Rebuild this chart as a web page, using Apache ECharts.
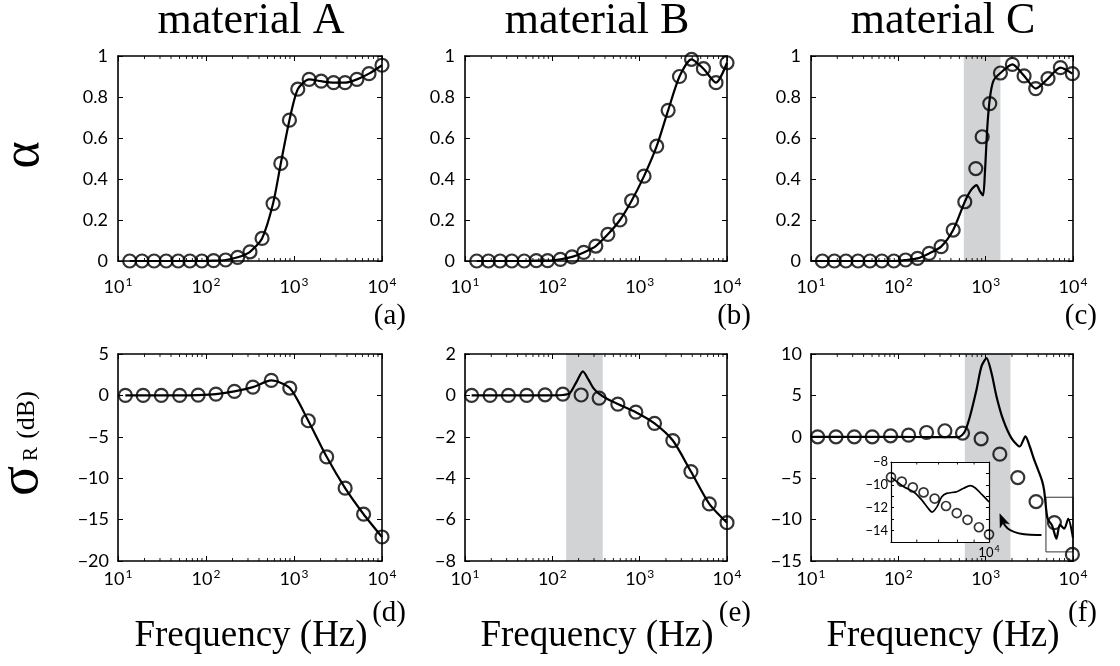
<!DOCTYPE html>
<html><head><meta charset="utf-8">
<script src="https://cdn.jsdelivr.net/npm/echarts@6/dist/echarts.min.js"></script>
<style>html,body{margin:0;padding:0;background:#fff}#c{width:1120px;height:666px}</style>
</head><body><div id="c"></div>
<script>
// ---- data: x values are log10(frequency in Hz) ----
// (a) material A, absorption alpha
const aCircX = [1.133,1.273,1.41,1.547,1.684,1.817,1.953,2.086,2.223,2.36,2.5,2.637,2.762,2.85,2.948,3.043,3.172,3.309,3.45,3.58,3.715,3.852,4.0];
const aCircY = [0,0,0,0,0,0,0,0.002,0.005,0.018,0.045,0.11,0.28,0.476,0.687,0.838,0.886,0.877,0.87,0.87,0.886,0.914,0.955];
// (b) material B, alpha
const bCircX = [1.134,1.268,1.402,1.536,1.678,1.816,1.946,2.092,2.226,2.36,2.498,2.636,2.774,2.908,3.05,3.195,3.326,3.456,3.594,3.73,3.874,4.0];
const bCircY = [0,0,0,0,0,0.002,0.002,0.008,0.02,0.042,0.073,0.13,0.2,0.294,0.414,0.56,0.735,0.9,0.984,0.938,0.87,0.967];
// (c) material C, alpha
const cCircX = [1.13,1.267,1.4,1.538,1.675,1.812,1.949,2.083,2.22,2.353,2.49,2.628,2.761,2.887,2.96,3.047,3.169,3.306,3.44,3.573,3.714,3.856,3.993];
const cCircY = [0,0,0,0,0,0,0,0.005,0.013,0.037,0.07,0.151,0.289,0.451,0.606,0.768,0.917,0.959,0.903,0.841,0.89,0.943,0.914];
const cLineX = [1.0,1.5,1.949,2.083,2.22,2.353,2.49,2.628,2.761,2.83,2.895,2.935,2.97,2.99,3.02,3.05,3.09,3.169,3.306,3.44,3.573,3.714,3.856,3.993];
const cLineY = [0,0,0,0.005,0.013,0.037,0.07,0.151,0.289,0.345,0.37,0.34,0.32,0.42,0.66,0.8,0.88,0.917,0.959,0.903,0.841,0.89,0.943,0.914];
// (d) material A, sigma_R (dB)
const dCircX = [1.084,1.286,1.492,1.701,1.911,2.113,2.323,2.533,2.742,2.952,3.162,3.371,3.581,3.791,4.0];
const dCircY = [0,0,0,0,0.04,0.16,0.48,1.0,1.81,0.89,-3.06,-7.42,-11.2,-14.35,-17.1];
// (e) material B, sigma_R (dB)
const eCircX = [1.076,1.287,1.497,1.707,1.917,2.12,2.33,2.536,2.75,2.956,3.17,3.38,3.587,3.797,4.0];
const eCircY = [0,0,0,0,0.03,0.06,0.02,-0.13,-0.42,-0.81,-1.35,-2.18,-3.68,-5.24,-6.15];
const eLineX = [1.076,1.5,1.917,2.12,2.2,2.28,2.35,2.414,2.47,2.53,2.62,2.75,2.956,3.17,3.38,3.587,3.797,4.0];
const eLineY = [0,0,0,0.02,0.1,0.68,1.16,0.76,0.35,0.1,-0.15,-0.42,-0.81,-1.35,-2.18,-3.68,-5.24,-6.15];
// (f) material C, sigma_R (dB)
const fCircX = [1.076,1.286,1.496,1.701,1.911,2.117,2.323,2.533,2.735,2.948,3.162,3.368,3.577,3.787,3.993];
const fCircY = [0,0,0,0,0.12,0.2,0.52,0.73,0.44,-0.24,-2.1,-4.92,-7.82,-10.36,-14.2];
const fLineX = [1.0,1.5,2.0,2.4,2.6,2.7,2.76,2.82,2.895,2.952,3.01,3.067,3.124,3.2,3.295,3.39,3.455,3.505,3.55,3.6,3.645,3.67,3.69,3.71,3.76,3.81,3.85,3.9,3.945,4.0];
const fLineY = [0,0,0,-0.05,-0.05,0,0.6,2.46,5.68,8.5,9.5,7.7,4.87,2.06,-0.16,-1.17,0.04,-1.17,-2.6,-4.0,-5.3,-6.5,-8.5,-9.9,-10.7,-12.3,-10.6,-11.1,-9.9,-12.2];
// inset of (f)
const gCircX = [3.699,3.732,3.766,3.799,3.833,3.868,3.901,3.934,3.969,4.0];
const gCircY = [-9.33,-9.72,-10.22,-10.66,-11.2,-11.85,-12.47,-13.06,-13.71,-14.33];
const gLineX = [3.699,3.738,3.768,3.794,3.814,3.825,3.84,3.855,3.87,3.901,3.922,3.942,3.957,3.978,4.0];
const gLineY = [-9.33,-10.16,-10.6,-11.34,-12.08,-12.38,-11.93,-11.05,-10.75,-10.6,-10.3,-10.07,-10.25,-10.84,-11.5];
// shaded bands (Hz)
const shadeC = [562, 1476];
const shadeE = [144, 378];
const shadeF = [577, 1923];
// zoom box in (f) : [Hz, dB]
const boxF = [[4900, -7.3], [10000, -13.9]];
// tick positions
const minorTickHz = [20,30,40,50,60,70,80,90,200,300,400,500,600,700,800,900,2000,3000,4000,5000,6000,7000,8000,9000];
const insetMinorTickHz = [6000,7000,8000,9000];
const titles = ['material A','material B','material C'];
const panelTags = ['(a)','(b)','(c)','(d)','(e)','(f)'];

// ---- build ----
const toPairs = (xs, ys) => xs.map((e, i) => [Math.pow(10, e), ys[i]]);
const minus = v => (v < 0 ? '\u2212' + Math.abs(+v.toFixed(6)) : String(+(+v).toFixed(6)));
const serif = 'Liberation Serif';
const sans = 'Lato';

const grids = [
  {left:118, top:56, width:264, height:205},
  {left:465, top:56, width:262, height:205},
  {left:811, top:56, width:262, height:205},
  {left:118, top:354, width:264, height:207},
  {left:465, top:354, width:262, height:207},
  {left:811, top:354, width:262, height:207},
  {left:891, top:462, width:98, height:80, z:20, show:true, backgroundColor:'#fff', borderWidth:0}
];
const yCfg = [[0,1,0.2],[0,1,0.2],[0,1,0.2],[-20,5,5],[-8,2,2],[-15,10,5],[-15,-8,1]];
const xCfg = [[10,10000],[10,10000],[10,10000],[10,10000],[10,10000],[10,10000],[5000,10000]];
const xLabelMargin = [15,15,15,7,7,7,3];

const supRich = (big, small) => ({
  b:{fontSize:big, fontFamily:sans, color:'#000'},
  s:{fontSize:small, fontFamily:sans, color:'#000', padding:[0,0,Math.round(big*0.55),1]}
});

const xAxis = [], yAxis = [], series = [];
grids.forEach((g, i) => {
  const inset = i === 6;
  const lw = inset ? 1.2 : 1.6;
  const az = inset ? 32 : 10;
  const xl = {
    type:'log', logBase:10, gridIndex:i, min:xCfg[i][0], max:xCfg[i][1], z:az,
    axisLine:{show:true, onZero:false, lineStyle:{color:'#000', width:lw}},
    axisTick:{show:!inset, inside:true, length:5, lineStyle:{color:'#000', width:1}},
    splitLine:{show:false}, minorTick:{show:false}
  };
  xAxis.push(Object.assign({}, xl, {position:'bottom', axisLabel:{
    show:true, margin:xLabelMargin[i], showMinLabel:true, showMaxLabel:true,
    formatter: v => {
      const e = Math.round(Math.log10(v));
      if (inset && Math.abs(v - 10000) > 1) return '';
      return '{b|10}{s|' + e + '}';
    },
    rich: inset ? supRich(13, 9) : supRich(18, 12)
  }}));
  xAxis.push(Object.assign({}, xl, {position:'top', axisLabel:{show:false}}));
  const yl = {
    type:'value', gridIndex:i, min:yCfg[i][0], max:yCfg[i][1], interval:yCfg[i][2], z:az,
    axisLine:{show:true, onZero:false, lineStyle:{color:'#000', width:lw}},
    axisTick:{show:true, inside:true, length:inset ? 3 : 5, lineStyle:{color:'#000', width:1}},
    splitLine:{show:false}
  };
  yAxis.push(Object.assign({}, yl, {position:'left', axisLabel:{
    show:true, margin: inset ? 3 : (i < 3 ? 10 : 9), color:'#000',
    fontFamily:sans, fontSize: inset ? 13 : 18,
    formatter: v => inset ? (Math.round(v) % 2 === 0 ? minus(v) : '') : minus(v)
  }}));
  yAxis.push(Object.assign({}, yl, {position:'right', axisLabel:{show:false}}));

  // minor ticks (log decades) on bottom and top edges
  const ticks = inset ? insetMinorTickHz : minorTickHz;
  const y0 = yCfg[i][0], y1 = yCfg[i][1];
  series.push({
    type:'custom', xAxisIndex:2*i, yAxisIndex:2*i, z: inset ? 33 : 8, silent:true,
    data: ticks.map(v => [v, y0]),
    renderItem: (params, api) => {
      const pb = api.coord([api.value(0), y0]);
      const pt = api.coord([api.value(0), y1]);
      const L = inset ? 2.5 : 3;
      const st = {stroke:'#000', lineWidth:0.9};
      return {type:'group', children:[
        {type:'line', shape:{x1:pb[0], y1:pb[1], x2:pb[0], y2:pb[1]-L}, style:st},
        {type:'line', shape:{x1:pt[0], y1:pt[1], x2:pt[0], y2:pt[1]+L}, style:st}
      ]};
    }
  });
});

const shadeSeries = (i, band) => ({
  type:'line', xAxisIndex:2*i, yAxisIndex:2*i, data:[], z:1, silent:true,
  markArea:{silent:true, itemStyle:{color:'#d1d3d4'}, data:[[{xAxis:band[0]},{xAxis:band[1]}]]}
});
const lineSeries = (i, data, z, w) => ({
  type:'line', xAxisIndex:2*i, yAxisIndex:2*i, data, showSymbol:false, symbol:'none',
  smooth:0.25, lineStyle:{color:'#000', width: w || 2.2}, z: z || 3, silent:true
});
const circSeries = (i, data, size, z, bw) => ({
  type:'scatter', xAxisIndex:2*i, yAxisIndex:2*i, data, symbol:'circle', symbolSize:size || 13,
  itemStyle:{color:'rgba(0,0,0,0)', borderColor:'#000', borderWidth: bw || 2.2}, z: z || 4, clip:false, silent:true
});

series.push(lineSeries(0, toPairs(aCircX, aCircY)), circSeries(0, toPairs(aCircX, aCircY)));
series.push(lineSeries(1, toPairs(bCircX, bCircY)), circSeries(1, toPairs(bCircX, bCircY)));
series.push(shadeSeries(2, shadeC), lineSeries(2, toPairs(cLineX, cLineY)), circSeries(2, toPairs(cCircX, cCircY)));
series.push(lineSeries(3, toPairs(dCircX, dCircY)), circSeries(3, toPairs(dCircX, dCircY)));
series.push(shadeSeries(4, shadeE), lineSeries(4, toPairs(eLineX, eLineY)), circSeries(4, toPairs(eCircX, eCircY)));
series.push(shadeSeries(5, shadeF), lineSeries(5, toPairs(fLineX, fLineY)), circSeries(5, toPairs(fCircX, fCircY)));
const fRefIndex = series.length - 1;
series.push({
  type:'line', xAxisIndex:10, yAxisIndex:10, data:[], z:5, silent:true,
  markArea:{silent:true, itemStyle:{color:'rgba(0,0,0,0)', borderColor:'#333', borderWidth:1},
    data:[[{xAxis:boxF[0][0], yAxis:boxF[0][1]},{xAxis:boxF[1][0], yAxis:boxF[1][1]}]]}
});
series.push(lineSeries(6, toPairs(gLineX, gLineY), 25, 1.7), circSeries(6, toPairs(gCircX, gCircY), 9, 26, 1.7));
series.forEach(s => { s.animation = false; });

// text decorations
const graphic = [];
const txt = (x, y, text, size, align, rot) => ({
  type:'text', x, y, rotation: rot || 0, z:50, silent:true,
  style:{text, fill:'#000', font: size + 'px "' + serif + '"', textAlign: align || 'center', align: align || 'center',
    textVerticalAlign:'middle', verticalAlign:'middle'}
});
const colCenters = [251, 597, 943];
titles.forEach((t, k) => graphic.push(txt(colCenters[k], 21, t, 44)));
colCenters.forEach(cx => graphic.push(txt(cx, 636, 'Frequency (Hz)', 37)));
const tagX = [406, 751, 1097];
panelTags.forEach((t, k) => graphic.push(txt(tagX[k % 3], k < 3 ? 316 : 613, t, 29, 'right')));
graphic.push(txt(24, 155, '\u03b1', 52, 'center', Math.PI/2));
graphic.push(txt(22, 481, '\u03c3', 56, 'center', Math.PI/2));
graphic.push(txt(31, 454, 'R', 21, 'center', Math.PI/2));
graphic.push(txt(27, 415, '(dB)', 26, 'center', Math.PI/2));

const chart = echarts.init(document.getElementById('c'), null, {renderer:'canvas'});
chart.setOption({animation:false, backgroundColor:'#fff', grid:grids, xAxis, yAxis, series, graphic});

// curved arrow in (f), anchored in data coordinates [log10 Hz, dB]
const arrowTail = [3.639, -11.85], arrowCtrl = [3.265, -11.97], arrowHead = [3.162, -9.3];
const px = p => chart.convertToPixel({seriesIndex:fRefIndex}, [Math.pow(10, p[0]), p[1]]);
const P0 = px(arrowTail), C = px(arrowCtrl), P2 = px(arrowHead);
let dx = P2[0]-C[0], dy = P2[1]-C[1]; const dl = Math.hypot(dx, dy); dx/=dl; dy/=dl;
const HL = 13, HW = 5;
const base = [P2[0]-HL*dx, P2[1]-HL*dy];
const back = [P2[0]-HL*0.75*dx, P2[1]-HL*0.75*dy];
graphic.push({type:'bezierCurve', z:40, silent:true,
  shape:{x1:P0[0], y1:P0[1], x2:back[0], y2:back[1], cpx1:C[0], cpy1:C[1]},
  style:{stroke:'#000', lineWidth:2, fill:null}});
graphic.push({type:'polygon', z:41, silent:true,
  shape:{points:[P2, [base[0]-HW*dy, base[1]+HW*dx], back, [base[0]+HW*dy, base[1]-HW*dx]]},
  style:{fill:'#000', stroke:'#000', lineWidth:0.5}});
chart.setOption({graphic});
</script></body></html>
